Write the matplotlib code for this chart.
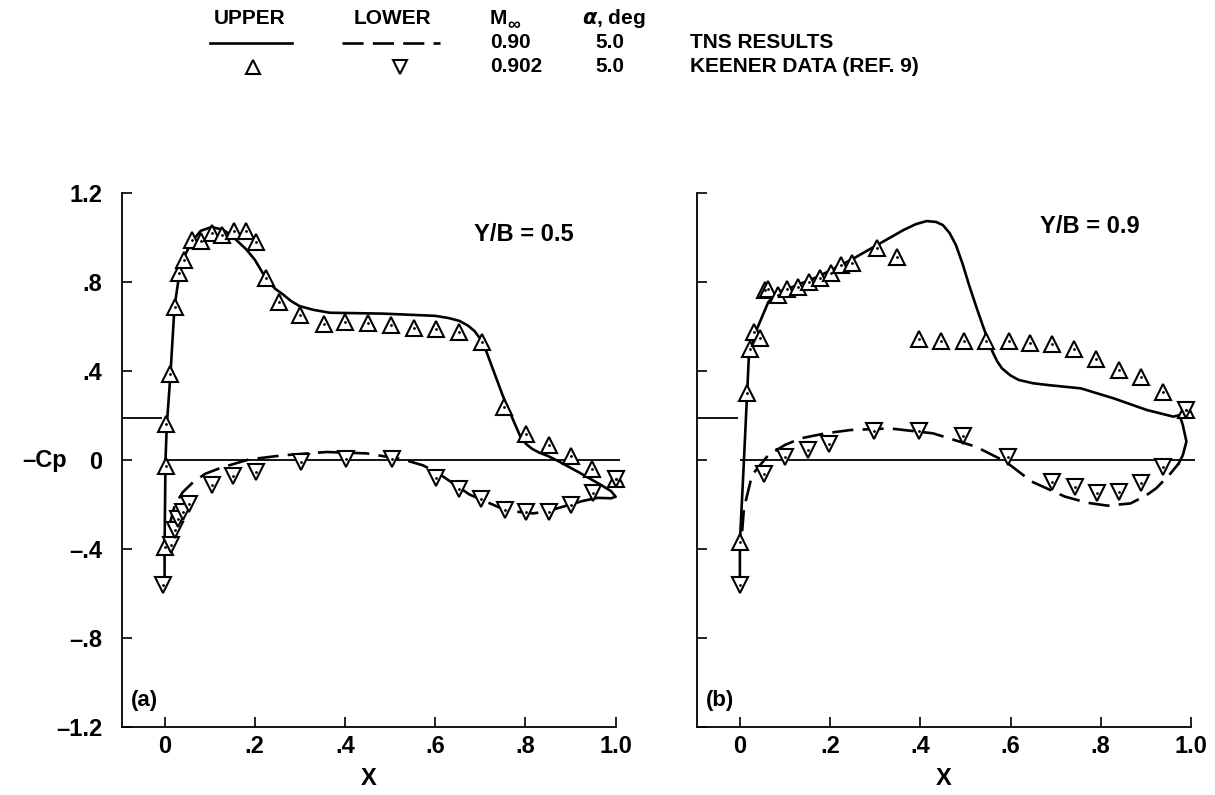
import matplotlib
matplotlib.use("Agg")
import matplotlib.pyplot as plt
from matplotlib.lines import Line2D

plt.rcParams['font.family'] = ['Liberation Sans', 'DejaVu Sans']
plt.rcParams['font.weight'] = 'bold'

# ---- (a) Y/B = 0.5 ----
a_exp_up_x = [0.0, 0.004, 0.004, 0.013, 0.022, 0.033, 0.043, 0.061, 0.081, 0.104, 0.128, 0.153,
              0.18, 0.203, 0.225, 0.253, 0.301, 0.353, 0.401, 0.45, 0.502, 0.552, 0.602, 0.653,
              0.703, 0.752, 0.802, 0.852, 0.902, 0.948, 1.0]
a_exp_up_y = [-0.39, -0.027, 0.16, 0.385, 0.69, 0.84, 0.90, 0.99, 0.985, 1.02, 1.01, 1.03,
              1.03, 0.98, 0.82, 0.71, 0.65, 0.61, 0.62, 0.615, 0.605, 0.595, 0.59, 0.575,
              0.53, 0.24, 0.115, 0.067, 0.018, -0.042, -0.084]
a_exp_lo_x = [-0.004, 0.015, 0.022, 0.029, 0.041, 0.054, 0.104, 0.151, 0.203, 0.303, 0.403,
              0.505, 0.601, 0.653, 0.702, 0.754, 0.802, 0.852, 0.902, 0.95, 1.0]
a_exp_lo_y = [-0.56, -0.382, -0.315, -0.267, -0.234, -0.199, -0.114, -0.072, -0.054, -0.009, 0.003,
              0.003, -0.079, -0.132, -0.177, -0.226, -0.234, -0.234, -0.204, -0.147, -0.084]
a_tns_up_x = [0.0, 0.0, 0.002, 0.005, 0.013, 0.022, 0.033, 0.045, 0.06, 0.08, 0.104, 0.13, 0.151,
              0.181, 0.2, 0.225, 0.245, 0.262, 0.28, 0.299, 0.33, 0.366, 0.484, 0.6, 0.63, 0.654,
              0.672, 0.687, 0.706, 0.728, 0.75, 0.78, 0.79, 0.802, 0.815, 0.831, 0.85, 0.872,
              0.92, 0.965, 0.99, 1.0, 0.99, 0.96]
a_tns_up_y = [-0.56, -0.39, 0.0, 0.16, 0.385, 0.69, 0.84, 0.92, 0.98, 1.03, 1.047, 1.035, 1.004,
              0.947, 0.9, 0.815, 0.77, 0.745, 0.715, 0.692, 0.675, 0.662, 0.658, 0.648, 0.638, 0.625,
              0.605, 0.58, 0.528, 0.408, 0.288, 0.146, 0.1, 0.071, 0.05, 0.033, 0.018, -0.004,
              -0.057, -0.109, -0.14, -0.165, -0.172, -0.17]
a_tns_lo_x = [0.01, 0.022, 0.04, 0.063, 0.09, 0.126, 0.188, 0.262, 0.359, 0.447, 0.528, 0.573,
              0.61, 0.676, 0.743, 0.78, 0.817, 0.85, 0.876, 0.927, 0.96]
a_tns_lo_y = [-0.30, -0.207, -0.145, -0.10, -0.062, -0.034, 0.003, 0.021, 0.036, 0.03, 0.003,
              -0.024, -0.064, -0.155, -0.214, -0.232, -0.24, -0.23, -0.214, -0.184, -0.17]

# ---- (b) Y/B = 0.9 ----
b_exp_up_x = [0.0, 0.016, 0.023, 0.031, 0.045, 0.056, 0.063, 0.084, 0.104, 0.129, 0.153, 0.177,
              0.202, 0.225, 0.249, 0.303, 0.348, 0.398, 0.446, 0.497, 0.546, 0.596, 0.643, 0.693,
              0.74, 0.789, 0.84, 0.89, 0.939, 0.99]
b_exp_up_y = [-0.367, 0.30, 0.50, 0.577, 0.547, 0.764, 0.77, 0.742, 0.769, 0.779, 0.799, 0.82,
              0.842, 0.876, 0.884, 0.955, 0.914, 0.544, 0.535, 0.535, 0.535, 0.535, 0.525, 0.521,
              0.499, 0.454, 0.404, 0.372, 0.307, 0.225]
b_exp_lo_x = [0.0, 0.053, 0.10, 0.151, 0.198, 0.298, 0.397, 0.495, 0.595, 0.693, 0.742, 0.791,
              0.84, 0.89, 0.939, 0.99]
b_exp_lo_y = [-0.562, -0.063, 0.012, 0.045, 0.072, 0.132, 0.132, 0.11, 0.012, -0.097, -0.12,
              -0.15, -0.142, -0.105, -0.03, 0.225]
b_tns_up_x = [0.0, 0.0, 0.009, 0.016, 0.02, 0.038, 0.063, 0.085, 0.1, 0.173, 0.246, 0.304, 0.363,
              0.39, 0.414, 0.435, 0.45, 0.465, 0.479, 0.494, 0.508, 0.523, 0.538, 0.55, 0.56,
              0.57, 0.581, 0.6, 0.618, 0.65, 0.683, 0.756, 0.829, 0.902, 0.961, 0.975, 0.982,
              0.99, 0.982, 0.973]
b_tns_up_y = [-0.56, -0.37, 0.0, 0.30, 0.47, 0.59, 0.71, 0.757, 0.764, 0.824, 0.899, 0.966, 1.034,
              1.06, 1.074, 1.07, 1.056, 1.02, 0.966, 0.88, 0.787, 0.695, 0.607, 0.54, 0.487,
              0.445, 0.412, 0.38, 0.36, 0.345, 0.337, 0.322, 0.277, 0.225, 0.195, 0.202, 0.157,
              0.083, 0.022, -0.015]
b_tns_lo_x = [0.005, 0.009, 0.027, 0.063, 0.1, 0.136, 0.19, 0.246, 0.333, 0.428, 0.523, 0.589,
              0.647, 0.72, 0.77, 0.815, 0.866, 0.9, 0.923, 0.952, 0.973]
b_tns_lo_y = [-0.32, -0.217, -0.067, 0.022, 0.068, 0.098, 0.12, 0.135, 0.142, 0.12, 0.06, -0.007,
              -0.097, -0.164, -0.192, -0.205, -0.195, -0.16, -0.127, -0.067, -0.015]

cp_star = [0.19, 0.187]
yticks = [-1.2, -0.8, -0.4, 0, 0.4, 0.8, 1.2]
ytick_labels = ['\u20131.2', '\u2013.8', '\u2013.4', '0', '.4', '.8', '1.2']
xticks = [0, 0.2, 0.4, 0.6, 0.8, 1.0]
xtick_labels = ['0', '.2', '.4', '.6', '.8', '1.0']

fig = plt.figure(figsize=(12.15, 7.95), dpi=100)
ax_a = fig.add_axes([0.1002, 0.0855, 0.4065, 0.6717])
ax_b = fig.add_axes([0.5737, 0.0855, 0.4065, 0.6717])

panels = [
    (ax_a, a_exp_up_x, a_exp_up_y, a_exp_lo_x, a_exp_lo_y, a_tns_up_x, a_tns_up_y,
     a_tns_lo_x, a_tns_lo_y, 'Y/B = 0.5', (0.797, 1.015), '(a)', cp_star[0]),
    (ax_b, b_exp_up_x, b_exp_up_y, b_exp_lo_x, b_exp_lo_y, b_tns_up_x, b_tns_up_y,
     b_tns_lo_x, b_tns_lo_y, 'Y/B = 0.9', (0.775, 1.05), '(b)', cp_star[1]),
]

for ax, eux, euy, elx, ely, tux, tuy, tlx, tly, station, spos, tag, cps in panels:
    ax.set_xlim(-0.095, 1.0)
    ax.set_ylim(-1.2, 1.2)
    for s in ['top', 'right']:
        ax.spines[s].set_visible(False)
    for s in ['left', 'bottom']:
        ax.spines[s].set_linewidth(1.3)
    # reference lines: zero line and critical pressure tick
    ax.hlines(0, 0, 1.01, colors='k', lw=1.3, clip_on=False)
    ax.hlines(cps, -0.095, -0.005, colors='k', lw=1.3)
    # TNS results
    ax.plot(tux, tuy, '-', color='k', lw=1.9, clip_on=False)
    ax.plot(tlx, tly, color='k', lw=1.9, dashes=(8, 3.5), clip_on=False)
    # Keener data
    ax.plot(eux, euy, '^', ms=11, mfc='white', mec='k', mew=1.5, clip_on=False)
    ax.plot(elx, ely, 'v', ms=11, mfc='white', mec='k', mew=1.5, clip_on=False)
    ax.plot(eux, euy, '.', ms=2, color='k', clip_on=False)
    ax.plot(elx, ely, '.', ms=2, color='k', clip_on=False)

    ax.set_xticks(xticks)
    ax.set_xticklabels(xtick_labels)
    ax.set_yticks(yticks)
    ax.set_yticklabels(ytick_labels)
    ax.tick_params(direction='in', length=7, width=1.2, labelsize=17)
    ax.tick_params(axis='x', pad=6)
    ax.tick_params(axis='y', pad=14)
    ax.set_xlabel('X', fontsize=17, fontweight='bold', labelpad=6)
    ax.text(spos[0], spos[1], station, fontsize=17, ha='center', va='center')
    ax.text(-0.045, -1.08, tag, fontsize=16, ha='center', va='center')

ax_b.tick_params(axis='y', labelleft=False)
fig.text(45 / 1215, 1 - 461 / 795, '\u2013Cp', fontsize=17, ha='center', va='center')

# ---- legend table at the top ----
def fx(px):
    return px / 1215

def fy(py):
    return 1 - py / 795

fs = 15
fig.text(fx(250), fy(18), 'UPPER', fontsize=fs, ha='center', va='center')
fig.text(fx(392), fy(18), 'LOWER', fontsize=fs, ha='center', va='center')
fig.text(fx(490), fy(18), 'M', fontsize=fs, ha='left', va='center')
fig.text(fx(507), fy(25), '\u221e', fontsize=13, ha='left', va='center')
fig.text(fx(582), fy(18), r'$\alpha$, deg', fontsize=fs, ha='left', va='center')

fig.add_artist(Line2D([fx(210), fx(292)], [fy(43), fy(43)], color='k', lw=1.9,
                      transform=fig.transFigure))
fig.add_artist(Line2D([fx(342), fx(440)], [fy(43), fy(43)], color='k', lw=1.9,
                      dashes=(8, 3.5), transform=fig.transFigure))
fig.add_artist(Line2D([fx(253)], [fy(67)], marker='^', ms=10, mfc='white', mec='k', mew=1.5,
                      linestyle='none', transform=fig.transFigure))
fig.add_artist(Line2D([fx(400)], [fy(67)], marker='v', ms=10, mfc='white', mec='k', mew=1.5,
                      linestyle='none', transform=fig.transFigure))

fig.text(fx(490), fy(43), '0.90', fontsize=fs, ha='left', va='center')
fig.text(fx(490), fy(67), '0.902', fontsize=fs, ha='left', va='center')
fig.text(fx(610), fy(43), '5.0', fontsize=fs, ha='center', va='center')
fig.text(fx(610), fy(67), '5.0', fontsize=fs, ha='center', va='center')
fig.text(fx(690), fy(43), 'TNS RESULTS', fontsize=fs, ha='left', va='center')
fig.text(fx(690), fy(67), 'KEENER DATA (REF. 9)', fontsize=fs, ha='left', va='center')

fig.savefig('out.png', dpi=100)
